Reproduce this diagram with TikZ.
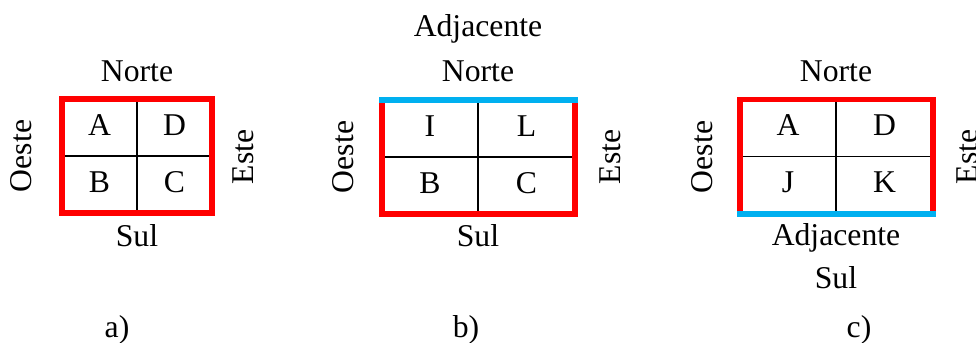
\documentclass[tikz,border=0pt]{standalone}
\usepackage{fontspec}
\setmainfont{Liberation Serif}
\usetikzlibrary{positioning}
\definecolor{framered}{RGB}{255,0,0}
\definecolor{adjblue}{RGB}{0,176,240}
\tikzset{
  quad cell/.style={
    rectangle, draw=black, line width=0.8pt,
    inner sep=0pt, outer sep=0pt, minimum height=28.5pt,
    text height=10.5pt, text depth=3pt
  },
  small cell/.style={quad cell, minimum width=37.5pt},
  wide cell/.style={quad cell, minimum width=48.25pt},
  quad frame/.style={draw=framered, line width=2.8pt},
  adjacent edge/.style={draw=adjblue, line width=3pt, line cap=rect},
  dir label/.style={anchor=base, inner sep=0pt},
  side label/.style={dir label, rotate=90}
}

\begin{document}
\begin{tikzpicture}[x=0.5pt, y=-0.5pt, font=\fontsize{15.85}{19}\selectfont]
    \useasboundingbox (0,0) rectangle (976,343);

    % a) single block
    \node[small cell] (aA) at (99.5,127.5) {A};
    \node[small cell, right=0pt of aA] (aD) {D};
    \node[small cell, below=0pt of aA] (aB) {B};
    \node[small cell, right=0pt of aB] (aC) {C};
    \draw[quad frame] (aA.north west) rectangle (aC.south east);
    \node[dir label] (aN) at (137,81) {Norte};
    \node[dir label] (aS) at (137,246) {Sul};
    \node[side label] (aW) at (32,156) {Oeste};
    \node[side label] (aE) at (253,157) {Este};
    \node[dir label] (aCap) at (117,337) {a)};

    % b) block with the northern neighbour
    \node[wide cell] (bI) at (430,128.5) {I};
    \node[wide cell, right=0pt of bI] (bL) {L};
    \node[wide cell, below=0pt of bI] (bB) {B};
    \node[wide cell, right=0pt of bB] (bC) {C};
    \draw[quad frame] (bI.north west) rectangle (bC.south east);
    \draw[adjacent edge] (bI.north west) -- (bL.north east);
    \node[dir label] (bAdj) at (478,36) {Adjacente};
    \node[dir label] (bN) at (478,81) {Norte};
    \node[dir label] (bS) at (478,246) {Sul};
    \node[side label] (bW) at (353,157) {Oeste};
    \node[side label] (bE) at (620,157) {Este};
    \node[dir label] (bCap) at (466,337) {b)};

    % c) block with the southern neighbour
    \node[wide cell] (cA) at (788,128) {A};
    \node[wide cell, right=0pt of cA] (cD) {D};
    \node[wide cell, below=0pt of cA] (cJ) {J};
    \node[wide cell, right=0pt of cJ] (cK) {K};
    \draw[quad frame] (cA.north west) rectangle (cK.south east);
    \draw[adjacent edge] (cJ.south west) -- (cK.south east);
    \node[dir label] (cN) at (836,81) {Norte};
    \node[dir label] (cAdj) at (836,245) {Adjacente};
    \node[dir label] (cS) at (836,288) {Sul};
    \node[side label] (cW) at (712,157) {Oeste};
    \node[side label] (cE) at (977,157) {Este};
    \node[dir label] (cCap) at (859,337) {c)};
\end{tikzpicture}
\end{document}
